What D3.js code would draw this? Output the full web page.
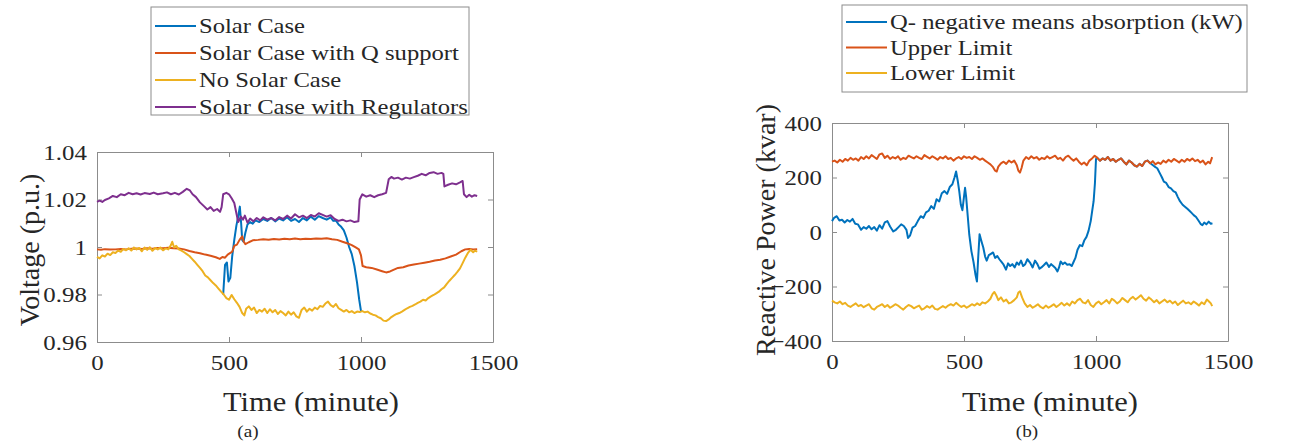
<!DOCTYPE html>
<html>
<head>
<meta charset="utf-8">
<script src="https://cdn.jsdelivr.net/npm/d3@7"></script>
<style>
  body { margin: 0; background: #fff; }
  svg { display: block; }
  text { font-family: "Liberation Serif", "Times New Roman", serif; }
</style>
</head>
<body>
<svg id="chart" width="1295" height="443"></svg>
<script>
// ---- data ----
const xTicks = [0, 500, 1000, 1500];
const voltTicks = [0.96, 0.98, 1, 1.02, 1.04];
const qTicks = [-400, -200, 0, 200, 400];

const voltNames = ["Solar Case", "Solar Case with Q support", "No Solar Case", "Solar Case with Regulators"];
const qNames = ["Q- negative means absorption (kW)", "Upper Limit", "Lower Limit"];

// [minute, p.u.]
const solarCase = [[478,0.980],[485,0.9925],[492,0.9935],[498,0.9855],[505,0.9870],[512,0.9960],[520,1.0030],[528,1.0090],[535,1.0130],[541,1.0170],[546,1.0100],[550,1.0030],[555,1.0022],[562,1.0060],[570,1.0095],[580,1.0105],[590,1.0098],[600,1.0112],[615,1.0105],[630,1.0118],[645,1.0110],[660,1.0122],[675,1.0108],[690,1.0120],[705,1.0112],[720,1.0125],[735,1.0110],[750,1.0118],[765,1.0105],[780,1.0122],[795,1.0112],[810,1.0128],[825,1.0115],[840,1.0130],[855,1.0122],[870,1.0115],[885,1.0125],[895,1.0110],[905,1.0112],[915,1.0095],[925,1.0085],[935,1.0070],[945,1.0040],[955,1.0000],[965,0.9970],[975,0.9920],[985,0.9850],[993,0.9780],[1000,0.9730]];

const solarQ = [[0,0.9990],[15,0.9988],[30,0.9991],[50,0.9989],[70,0.9990],[90,0.9992],[110,0.9990],[130,0.9993],[150,0.9994],[170,0.9992],[190,0.9995],[210,0.9993],[230,0.9996],[250,0.9995],[270,0.9997],[290,0.9995],[310,0.9994],[330,0.9990],[350,0.9983],[370,0.9978],[390,0.9974],[410,0.9968],[430,0.9963],[450,0.9957],[465,0.9950],[475,0.9958],[485,0.9955],[495,0.9968],[505,0.9975],[512,0.9980],[520,1.0005],[530,1.0010],[540,1.0030],[550,1.0045],[556,1.0022],[562,1.0012],[575,1.0020],[590,1.0028],[610,1.0030],[630,1.0033],[650,1.0031],[670,1.0034],[690,1.0032],[710,1.0035],[730,1.0033],[750,1.0036],[770,1.0033],[790,1.0035],[810,1.0034],[830,1.0036],[850,1.0035],[870,1.0037],[890,1.0033],[910,1.0030],[930,1.0022],[950,1.0015],[965,1.0008],[980,0.9998],[992,0.9990],[1000,0.9965],[1006,0.9920],[1020,0.9915],[1040,0.9912],[1060,0.9905],[1080,0.9898],[1095,0.9893],[1110,0.9897],[1125,0.9905],[1140,0.9912],[1160,0.9915],[1180,0.9922],[1200,0.9926],[1220,0.9930],[1240,0.9934],[1260,0.9938],[1280,0.9943],[1300,0.9946],[1320,0.9952],[1340,0.9960],[1360,0.9968],[1380,0.9982],[1395,0.9990],[1410,0.9992],[1425,0.9990],[1440,0.9991]];

const noSolar = [[0,0.9958],[10,0.9952],[20,0.9965],[30,0.9960],[40,0.9972],[50,0.9966],[60,0.9978],[70,0.9975],[80,0.9985],[90,0.9980],[100,0.9992],[110,0.9986],[120,0.9995],[130,0.9985],[140,0.9998],[150,0.9990],[160,0.9996],[170,0.9982],[180,0.9998],[190,0.9988],[200,0.9999],[210,0.9984],[220,0.9996],[230,0.9990],[240,0.9998],[250,0.9986],[260,0.9994],[270,0.9990],[280,1.0008],[285,1.0022],[292,0.9998],[300,1.0005],[310,0.9990],[320,0.9985],[330,0.9978],[340,0.9970],[350,0.9962],[360,0.9950],[370,0.9938],[380,0.9925],[390,0.9912],[400,0.9898],[410,0.9880],[420,0.9872],[430,0.9860],[440,0.9848],[450,0.9838],[460,0.9825],[470,0.9812],[480,0.9800],[490,0.9785],[500,0.9778],[510,0.9798],[520,0.9780],[530,0.9765],[540,0.9748],[550,0.9722],[558,0.9712],[565,0.9740],[575,0.9750],[585,0.9735],[595,0.9745],[605,0.9722],[615,0.9735],[625,0.9728],[635,0.9740],[645,0.9722],[655,0.9738],[665,0.9725],[675,0.9735],[685,0.9718],[695,0.9730],[705,0.9722],[715,0.9712],[725,0.9728],[735,0.9715],[745,0.9725],[755,0.9708],[765,0.9702],[775,0.9735],[785,0.9745],[795,0.9728],[805,0.9740],[815,0.9732],[825,0.9745],[835,0.9738],[845,0.9752],[855,0.9748],[865,0.9762],[875,0.9770],[885,0.9755],[895,0.9748],[905,0.9760],[915,0.9742],[925,0.9735],[935,0.9728],[945,0.9735],[955,0.9725],[965,0.9730],[975,0.9722],[985,0.9728],[995,0.9726],[1005,0.9730],[1015,0.9725],[1025,0.9728],[1035,0.9720],[1045,0.9715],[1055,0.9712],[1065,0.9705],[1075,0.9700],[1085,0.9690],[1095,0.9688],[1105,0.9695],[1115,0.9705],[1125,0.9712],[1135,0.9718],[1145,0.9722],[1155,0.9728],[1165,0.9735],[1175,0.9742],[1185,0.9748],[1195,0.9752],[1205,0.9758],[1215,0.9765],[1225,0.9770],[1235,0.9778],[1245,0.9775],[1255,0.9785],[1265,0.9792],[1275,0.9798],[1285,0.9805],[1295,0.9812],[1305,0.9822],[1315,0.9830],[1325,0.9845],[1335,0.9858],[1345,0.9870],[1355,0.9882],[1365,0.9895],[1375,0.9910],[1385,0.9932],[1395,0.9955],[1405,0.9975],[1415,0.9988],[1425,0.9978],[1432,0.9985],[1440,0.9980]];

const solarReg = [[0,1.019],[10,1.0195],[20,1.019],[30,1.0198],[45,1.0205],[60,1.0215],[75,1.021],[90,1.0222],[105,1.0218],[120,1.0228],[135,1.0222],[150,1.0226],[165,1.0221],[180,1.0227],[200,1.0223],[215,1.0229],[230,1.0222],[250,1.0226],[265,1.0230],[280,1.0222],[295,1.0228],[310,1.0221],[325,1.0232],[340,1.0245],[352,1.0238],[362,1.0222],[375,1.021],[390,1.0188],[405,1.0172],[418,1.0158],[430,1.0168],[442,1.0152],[455,1.0160],[466,1.0148],[472,1.0168],[478,1.0222],[490,1.0228],[500,1.0222],[510,1.0205],[520,1.0185],[528,1.0142],[535,1.0105],[545,1.0128],[553,1.0115],[560,1.0132],[570,1.0102],[580,1.012],[592,1.0108],[605,1.0122],[618,1.0112],[630,1.0125],[645,1.0115],[660,1.0122],[675,1.0112],[690,1.0126],[705,1.0118],[720,1.0132],[735,1.012],[750,1.0138],[765,1.0125],[780,1.0132],[795,1.0122],[810,1.0135],[825,1.0128],[840,1.0142],[855,1.0135],[870,1.0128],[885,1.0134],[900,1.0118],[915,1.011],[930,1.0115],[945,1.0108],[960,1.0112],[975,1.0105],[990,1.0108],[995,1.0200],[1005,1.0222],[1020,1.0212],[1035,1.0218],[1050,1.0210],[1065,1.0218],[1080,1.0222],[1095,1.0228],[1105,1.0285],[1115,1.0295],[1125,1.0288],[1140,1.0292],[1155,1.0284],[1170,1.0292],[1185,1.0288],[1200,1.0294],[1215,1.0300],[1230,1.0308],[1245,1.0302],[1260,1.0312],[1275,1.0315],[1290,1.0308],[1305,1.0312],[1312,1.0308],[1316,1.0255],[1330,1.0262],[1345,1.0268],[1360,1.0264],[1375,1.0272],[1385,1.0278],[1390,1.0222],[1400,1.0210],[1410,1.0220],[1420,1.0212],[1430,1.0218],[1440,1.0215]];

// [minute, kvar] -- between 1000 and 1200 the Q trace sits on the upper limit
const qPower = [[0,40],[8,52],[18,58],[28,42],[38,45],[48,35],[58,44],[68,38],[78,48],[88,30],[98,28],[110,8],[120,18],[130,12],[140,22],[150,10],[160,18],[170,5],[180,25],[190,12],[200,35],[210,40],[220,20],[232,2],[242,8],[252,18],[262,28],[272,22],[282,8],[288,-22],[296,-12],[305,16],[315,22],[325,40],[336,58],[346,52],[356,72],[366,78],[376,95],[386,85],[396,120],[406,112],[416,142],[426,150],[436,140],[446,165],[456,175],[464,200],[470,222],[476,190],[482,150],[488,100],[494,80],[500,130],[504,162],[508,130],[514,60],[520,-10],[528,-70],[536,-110],[543,-154],[549,-182],[554,-90],[559,-8],[565,-30],[573,-57],[580,-90],[586,-105],[594,-85],[602,-80],[610,-75],[618,-95],[626,-88],[634,-100],[642,-110],[650,-120],[659,-138],[667,-115],[675,-125],[683,-118],[692,-130],[700,-112],[708,-120],[716,-105],[724,-125],[732,-118],[740,-100],[750,-112],[760,-130],[769,-105],[778,-118],[786,-135],[793,-130],[802,-122],[812,-112],[822,-128],[830,-118],[838,-125],[846,-132],[854,-145],[860,-130],[866,-108],[874,-118],[882,-112],[891,-120],[900,-118],[908,-125],[915,-110],[922,-95],[930,-65],[939,-48],[948,-52],[956,-30],[964,-18],[972,5],[980,40],[986,80],[991,113],[996,180],[1000,268],[1005,272],[1015,262],[1025,270],[1035,265],[1045,275],[1055,262],[1065,268],[1075,258],[1085,265],[1095,270],[1105,258],[1115,248],[1125,262],[1135,255],[1145,245],[1155,240],[1165,250],[1175,242],[1185,258],[1195,262],[1202,256],[1212,248],[1222,240],[1232,234],[1242,215],[1250,200],[1257,185],[1266,180],[1275,165],[1284,160],[1293,150],[1302,145],[1310,128],[1318,113],[1328,100],[1338,92],[1346,85],[1354,78],[1362,70],[1370,62],[1379,55],[1388,42],[1396,30],[1403,25],[1410,35],[1418,28],[1427,38],[1435,30],[1441,32]];

const upperLimit = [[0,258],[10,262],[20,255],[30,265],[40,258],[50,268],[60,262],[70,272],[80,265],[90,270],[100,262],[110,275],[120,268],[130,278],[140,270],[150,282],[160,275],[170,268],[180,285],[190,288],[200,272],[210,280],[220,268],[230,275],[240,270],[250,278],[260,265],[270,272],[280,268],[290,280],[300,275],[310,270],[320,278],[330,272],[340,268],[350,282],[360,276],[370,270],[380,278],[390,272],[400,265],[410,275],[420,270],[430,278],[440,268],[450,272],[460,262],[470,270],[480,275],[490,268],[500,278],[510,272],[520,275],[530,268],[540,278],[550,272],[560,265],[570,270],[580,262],[590,255],[600,248],[610,238],[618,225],[624,222],[630,240],[640,252],[650,258],[660,250],[670,262],[680,255],[690,262],[700,245],[706,225],[712,218],[718,235],[725,262],[735,275],[745,268],[755,278],[765,270],[775,275],[785,265],[795,272],[805,268],[815,278],[825,270],[835,275],[845,280],[855,268],[865,272],[875,262],[885,275],[895,280],[905,270],[915,262],[925,270],[935,258],[945,248],[955,255],[965,245],[975,262],[985,270],[995,280],[1005,272],[1015,262],[1025,270],[1035,265],[1045,275],[1055,262],[1065,268],[1075,258],[1085,265],[1095,270],[1105,258],[1115,248],[1125,262],[1135,255],[1145,245],[1155,240],[1165,250],[1175,242],[1185,258],[1195,262],[1205,252],[1215,260],[1225,248],[1235,255],[1245,250],[1255,262],[1265,255],[1275,265],[1285,258],[1295,268],[1305,262],[1315,255],[1325,265],[1335,258],[1345,268],[1355,262],[1365,270],[1375,260],[1385,265],[1395,255],[1405,262],[1415,248],[1425,258],[1432,252],[1440,275]];

const lowerLimit = [[0,-252],[10,-258],[20,-262],[30,-255],[40,-265],[50,-260],[60,-270],[70,-275],[80,-268],[90,-262],[100,-272],[110,-268],[120,-276],[130,-270],[140,-265],[150,-280],[160,-285],[170,-275],[180,-270],[190,-265],[200,-275],[210,-268],[220,-278],[230,-272],[240,-265],[250,-270],[260,-278],[270,-285],[280,-275],[290,-268],[300,-272],[310,-280],[320,-275],[330,-270],[340,-285],[350,-280],[360,-272],[370,-278],[380,-270],[390,-282],[400,-285],[410,-278],[420,-272],[430,-278],[440,-270],[450,-265],[460,-270],[470,-260],[480,-268],[490,-275],[500,-270],[510,-278],[520,-272],[530,-265],[540,-270],[550,-262],[560,-268],[570,-258],[580,-262],[590,-255],[600,-245],[608,-228],[615,-220],[622,-232],[630,-250],[640,-240],[650,-255],[660,-248],[670,-262],[680,-258],[690,-250],[700,-240],[706,-222],[712,-218],[720,-240],[730,-262],[740,-275],[750,-268],[760,-278],[770,-272],[780,-265],[790,-275],[800,-280],[810,-270],[820,-278],[830,-272],[840,-265],[850,-275],[860,-268],[870,-260],[880,-270],[890,-262],[900,-270],[910,-255],[920,-262],[930,-250],[940,-245],[950,-258],[960,-262],[970,-250],[980,-268],[990,-275],[1000,-262],[1010,-255],[1020,-265],[1030,-258],[1040,-250],[1050,-262],[1060,-245],[1070,-252],[1080,-262],[1090,-255],[1100,-242],[1110,-250],[1120,-258],[1130,-245],[1140,-238],[1150,-248],[1160,-240],[1170,-232],[1180,-245],[1190,-252],[1200,-240],[1210,-248],[1220,-258],[1230,-250],[1240,-262],[1250,-255],[1260,-248],[1270,-258],[1280,-252],[1290,-262],[1300,-255],[1310,-268],[1320,-260],[1330,-252],[1340,-262],[1350,-258],[1360,-265],[1370,-255],[1380,-262],[1390,-270],[1400,-258],[1410,-265],[1420,-248],[1428,-255],[1435,-262],[1440,-272]];

// MATLAB default colour order
const colors = ["#0072BD", "#D95319", "#EDB120", "#7E2F8E"];

const FONT = '"Liberation Serif", "Times New Roman", serif';
const svg = d3.select("#chart");
const SX = 1.13;            // picture is a little stretched sideways
const axisColor = "#8c8c8c";
const textColor = "#262626";

function stretchedText(g, x, y, str, size, anchor) {
  return g.append("text")
    .attr("transform", `translate(${x},${y}) scale(${SX},1)`)
    .attr("text-anchor", anchor || "start")
    .attr("font-family", FONT)
    .attr("font-size", size)
    .attr("fill", textColor)
    .text(str);
}

function drawPanel(p) {
  const g = svg.append("g").attr("font-family", FONT);
  const x = d3.scaleLinear().domain([0, 1500]).range([p.left, p.right]);
  const y = d3.scaleLinear().domain(p.yDomain).range([p.bottom, p.top]);
  const tick = 5;

  // axes, ticks pointing inward on all four sides
  const bottom = g.append("g").attr("transform", `translate(0,${p.bottom})`)
    .call(d3.axisBottom(x).tickValues(xTicks).tickSize(-tick).tickSizeOuter(0).tickPadding(12).tickFormat(d3.format("d")));
  const left = g.append("g").attr("transform", `translate(${p.left},0)`)
    .call(d3.axisLeft(y).tickValues(p.yTicks).tickSize(-tick).tickSizeOuter(0).tickPadding(9).tickFormat(p.yFormat));
  g.append("g").attr("transform", `translate(0,${p.top})`)
    .call(d3.axisTop(x).tickValues(xTicks).tickSize(-tick).tickSizeOuter(0).tickFormat(""));
  g.append("g").attr("transform", `translate(${p.right},0)`)
    .call(d3.axisRight(y).tickValues(p.yTicks).tickSize(-tick).tickSizeOuter(0).tickFormat(""));

  g.selectAll("g").attr("font-family", FONT);
  g.selectAll(".domain").attr("stroke", axisColor);
  g.selectAll(".tick line").attr("stroke", axisColor);
  g.selectAll(".tick text")
    .attr("font-family", FONT)
    .attr("font-size", 22)
    .attr("fill", textColor);
  bottom.selectAll(".tick text").attr("transform", `scale(${SX},1)`).attr("dy", "0.75em");
  left.selectAll(".tick text").attr("transform", `scale(${SX},1)`);

  // series
  const line = d3.line().x(d => x(d[0])).y(d => y(d[1]));
  p.series.forEach((s, i) => {
    g.append("path").datum(s)
      .attr("fill", "none")
      .attr("stroke", colors[i])
      .attr("stroke-width", 2)
      .attr("stroke-linejoin", "round")
      .attr("d", line);
  });

  // labels
  stretchedText(g, p.xLabelX, 411, "Time (minute)", 27, "middle");
  g.append("text")
    .attr("transform", `translate(${p.yLabelX},${p.yLabelY}) rotate(-90)`)
    .attr("text-anchor", "middle")
    .attr("font-family", FONT)
    .attr("font-size", 28)
    .attr("fill", textColor)
    .text(p.yLabel);
  stretchedText(g, p.capX, 437, p.caption, 17, "middle");

  // legend
  const L = p.legend;
  g.append("rect")
    .attr("x", L.x).attr("y", L.y).attr("width", L.w).attr("height", L.h)
    .attr("fill", "#fff").attr("stroke", axisColor).attr("stroke-width", 1);
  p.names.forEach((name, i) => {
    const cy = L.y + L.first + i * L.step;
    g.append("line")
      .attr("x1", L.x + 4).attr("x2", L.x + 45)
      .attr("y1", cy).attr("y2", cy)
      .attr("stroke", colors[i]).attr("stroke-width", 2);
    stretchedText(g, L.x + 48, cy + 7, name, 21.8);
  });
}

drawPanel({
  left: 97, right: 493, top: 152, bottom: 342,
  yDomain: [0.96, 1.04], yTicks: voltTicks, yFormat: d => String(+d.toFixed(2)),
  series: [solarCase, solarQ, noSolar, solarReg],
  names: voltNames,
  yLabel: "Voltage (p.u.)", yLabelX: 39, yLabelY: 250,
  xLabelX: 311, caption: "(a)", capX: 248,
  legend: { x: 151, y: 7, w: 318, h: 108, first: 19, step: 27 }
});

drawPanel({
  left: 832, right: 1228, top: 123, bottom: 341,
  yDomain: [-400, 400], yTicks: qTicks, yFormat: d3.format("d"),
  series: [qPower, upperLimit, lowerLimit],
  names: qNames,
  yLabel: "Reactive Power (kvar)", yLabelX: 775, yLabelY: 230,
  xLabelX: 1050, caption: "(b)", capX: 1027,
  legend: { x: 842, y: 5, w: 405, h: 87, first: 17, step: 25.5 }
});
</script>
</body>
</html>
